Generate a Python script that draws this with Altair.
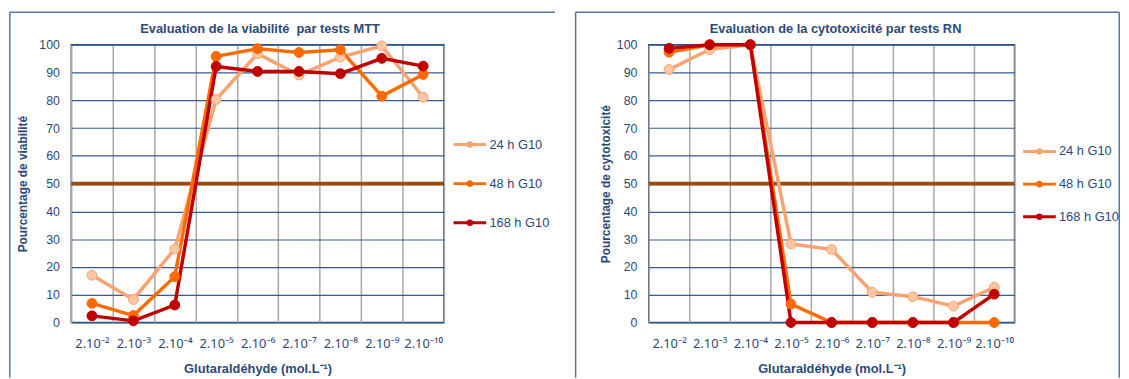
import altair as alt
import pandas as pd

# ---------------- data ----------------
concentrations = ["2.10⁻²", "2.10⁻³", "2.10⁻⁴", "2.10⁻⁵", "2.10⁻⁶",
                  "2.10⁻⁷", "2.10⁻⁸", "2.10⁻⁹", "2.10⁻¹⁰"]
series_names = ["24 h G10", "48 h G10", "168 h G10"]

# MTT viability (%)
mtt_24h = [17.0, 8.3, 26.5, 80.3, 96.8, 89.1, 95.5, 99.6, 81.1]
mtt_48h = [6.9, 2.5, 16.5, 95.8, 98.6, 97.2, 98.2, 81.5, 89.3]
mtt_168h = [2.4, 0.6, 6.3, 92.2, 90.4, 90.4, 89.6, 95.1, 92.3]

# RN cytotoxicity (%)
rn_24h = [91.1, 98.3, 100.0, 28.3, 26.3, 10.9, 9.3, 5.9, 12.7]
rn_48h = [97.3, 100.0, 100.0, 6.6, 0.0, 0.0, 0.0, 0.0, 0.0]
rn_168h = [98.7, 100.0, 100.0, 0.0, 0.0, 0.0, 0.0, 0.0, 10.2]

threshold = [50]
y_ticks = [0, 10, 20, 30, 40, 50, 60, 70, 80, 90, 100]

# ---------------- style ----------------
FONT = "Liberation Sans"
SUPFONT = "Noto Sans"
TEXT = "#2c4a78"
FRAME = "#5575a5"
BROWN = "#9e4c0c"
line_colors = ["#f9a372", "#ff6a00", "#c00000"]
fill_colors = ["#fbc6a0", "#ff6a00", "#c00000"]
LEGEND_PATH = "M-1,0H3M1.22,0A0.22,0.22,0,1,1,0.78,0A0.22,0.22,0,1,1,1.22,0"


def long_df(s24, s48, s168):
    rows = []
    for name, vals in zip(series_names, [s24, s48, s168]):
        for c, v in zip(concentrations, vals):
            rows.append({"conc": c, "series": name, "value": v})
    return pd.DataFrame(rows)


def panel(df, title, ytitle, W, H, lx, ly, row_pad, fl, fr, ft, fb, tx, ytp):
    x = alt.X("conc:N", sort=concentrations,
              scale=alt.Scale(type="band", paddingInner=0, paddingOuter=0),
              axis=alt.Axis(title="Glutaraldéhyde (mol.L⁻¹)", tickBand="extent",
                            grid=True, gridColor="#a8a8a8", gridWidth=1.5,
                            ticks=False, domain=False, labelAngle=0,
                            labelFont=SUPFONT, labelPadding=15, labelFontSize=13,
                            titlePadding=13, titleFontSize=13))
    y = alt.Y("value:Q", scale=alt.Scale(domain=[0, 100], nice=False),
              axis=alt.Axis(values=y_ticks, title=ytitle, grid=True,
                            gridColor="#3a5a8c", gridWidth=1.2, ticks=False,
                            domain=False, labelPadding=12, labelFontSize=12.5,
                            titlePadding=ytp, titleFontSize=12))
    base = alt.Chart(df)
    rule50 = alt.Chart(pd.DataFrame({"value": threshold})).mark_rule(
        color=BROWN, strokeWidth=4).encode(y=y)
    lines = base.mark_line(strokeWidth=3.5).encode(
        x=x, y=y,
        color=alt.Color("series:N", sort=series_names,
                        scale=alt.Scale(domain=series_names, range=line_colors),
                        legend=alt.Legend(title=None, orient="none", legendX=lx, legendY=ly,
                                          symbolType=LEGEND_PATH, symbolSize=272.25,
                                          symbolStrokeWidth=3, labelFontSize=13,
                                          labelColor=TEXT, labelFont=FONT,
                                          rowPadding=row_pad, labelOffset=18)))
    points = base.mark_circle(size=100, opacity=1, strokeWidth=1).encode(
        x=x, y=y,
        fill=alt.Fill("series:N", sort=series_names,
                      scale=alt.Scale(domain=series_names, range=fill_colors), legend=None),
        stroke=alt.Stroke("series:N", sort=series_names,
                          scale=alt.Scale(domain=series_names, range=line_colors), legend=None))
    one = alt.Chart(pd.DataFrame({"a": [0]}))
    frame_parts = [
        one.mark_rule(stroke=FRAME, strokeWidth=1.5).encode(
            x=alt.value(fl), y=alt.value(ft), y2=alt.value(fb)),
        one.mark_rule(stroke=FRAME, strokeWidth=1.5).encode(
            x=alt.value(fl), x2=alt.value(fr), y=alt.value(ft)),
    ]
    if fr < 480:
        frame_parts.append(one.mark_rule(stroke=FRAME, strokeWidth=1.5).encode(
            x=alt.value(fr), y=alt.value(ft), y2=alt.value(fb)))
    title_mark = one.mark_text(text=title, fontSize=13, fontWeight="bold", color=TEXT,
                               font=FONT, align="center", baseline="middle").encode(
        x=alt.value(tx), y=alt.value(-16))
    return alt.layer(*frame_parts, title_mark, rule50, lines, points).properties(
        width=W, height=H)


left = panel(long_df(mtt_24h, mtt_48h, mtt_168h),
             "Evaluation de la viabilité\u00a0 par tests MTT", "Pourcentage de viabilité",
             377, 281, 385, 91, 21.5, -62.2, 489.3, -33, 337, 191, 9)
right = panel(long_df(rn_24h, rn_48h, rn_168h),
              "Evaluation de la cytotoxicité par tests RN", "Pourcentage de cytotoxicité",
              370, 281, 377, 98, 15, -74, 476, -33, 337, 189, 4)

chart = alt.hconcat(left, right, spacing=17.25).properties(
    padding={"left": 0, "top": 0, "right": 0, "bottom": 0}
).configure_view(
    stroke="#2f4f80", strokeWidth=1.5
).configure_axis(
    labelFont=FONT, labelColor=TEXT, titleFont=FONT, titleColor=TEXT,
    titleFontWeight="bold"
).resolve_scale(color="independent", fill="independent", stroke="independent")

chart.save("out.html", embed_options={"renderer": "svg", "actions": False})
